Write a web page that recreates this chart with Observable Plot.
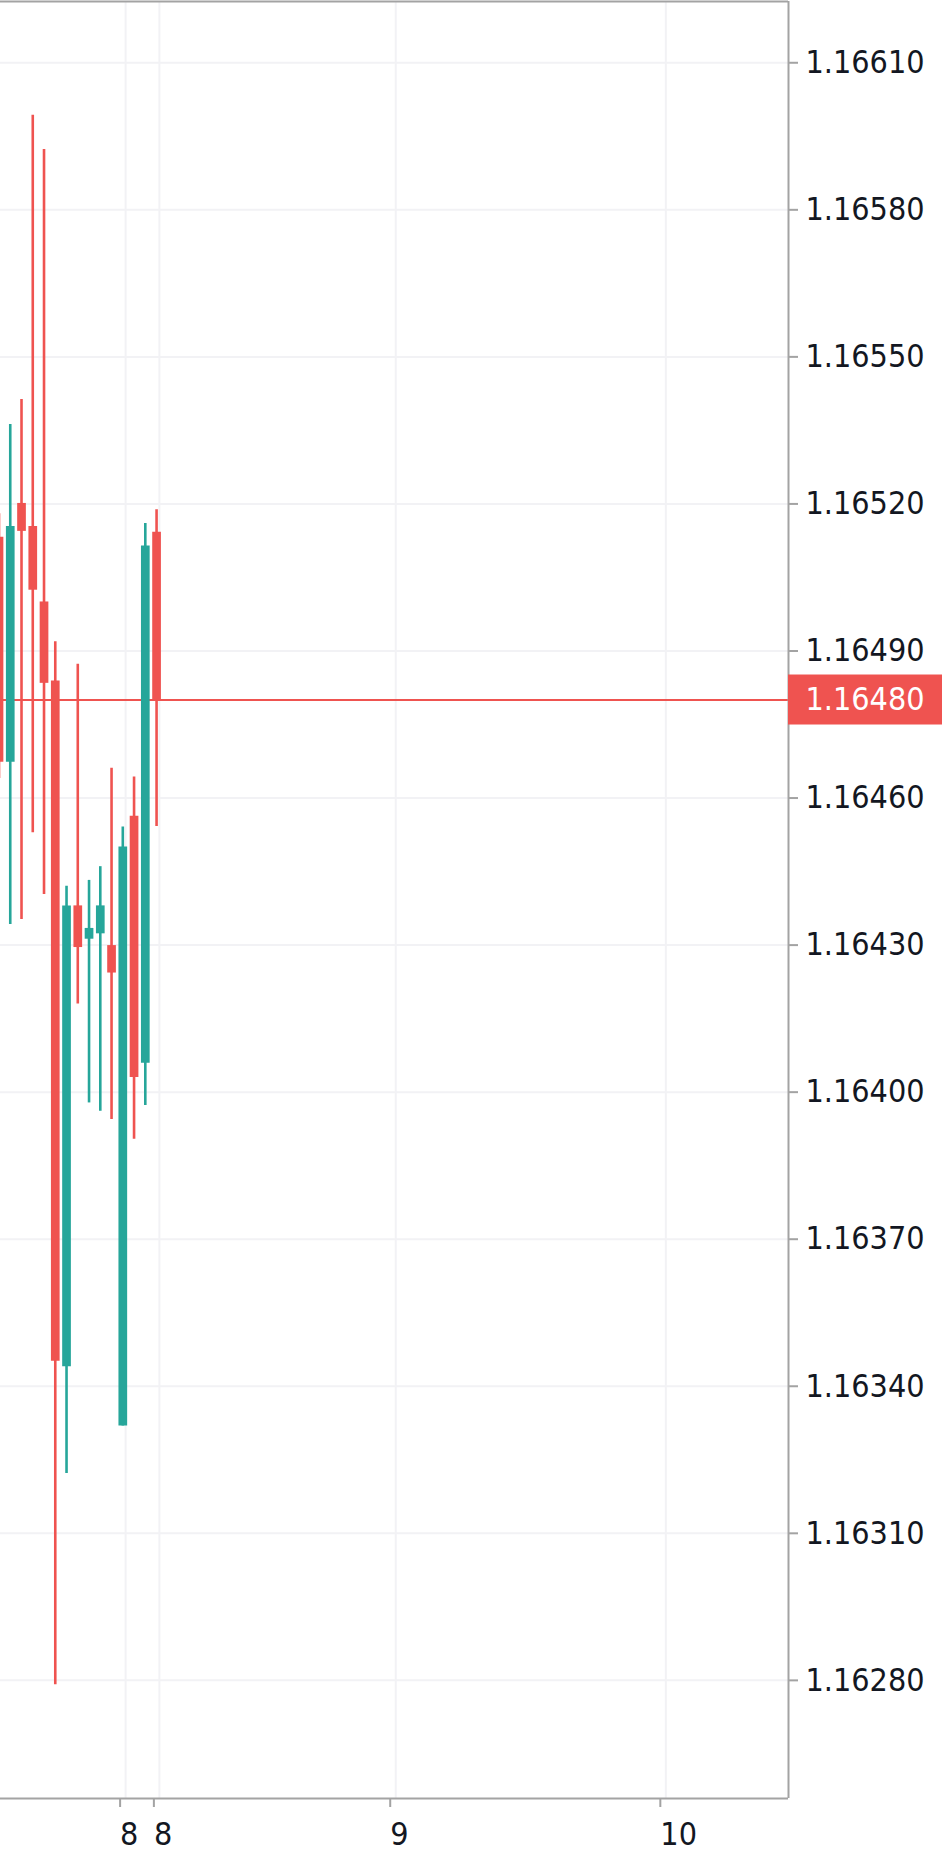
<!DOCTYPE html>
<html>
<head>
<meta charset="utf-8">
<script src="https://cdn.jsdelivr.net/npm/d3@7"></script>
<script src="https://cdn.jsdelivr.net/npm/@observablehq/plot@0.6"></script>
<style>
  html, body { margin: 0; padding: 0; background: #ffffff; }
  #chart svg { display: block; }
  #chart text { font-family: "DejaVu Sans Condensed", "DejaVu Sans", sans-serif; font-stretch: condensed; }
</style>
</head>
<body>
<div id="chart"></div>
<script>
// Candle data (hourly bars, index 0..14)
const barIndex = [0, 1, 2, 3, 4, 5, 6, 7, 8, 9, 10, 11, 12, 13, 14];
const opens  = [1.165132, 1.164673, 1.165201, 1.165154, 1.165000, 1.164839, 1.163440, 1.164380, 1.164312, 1.164323, 1.164299, 1.163319, 1.164563, 1.164059, 1.165142];
const highs  = [1.165180, 1.165362, 1.165413, 1.165993, 1.165923, 1.164919, 1.164420, 1.164873, 1.164432, 1.164460, 1.164661, 1.164541, 1.164643, 1.165160, 1.165188];
const lows   = [1.164640, 1.164342, 1.164352, 1.164529, 1.164403, 1.162791, 1.163222, 1.164180, 1.163978, 1.163961, 1.163944, 1.163319, 1.163904, 1.163973, 1.164542];
const closes = [1.164673, 1.165154, 1.165144, 1.165024, 1.164834, 1.163451, 1.164380, 1.164295, 1.164334, 1.164380, 1.164243, 1.164500, 1.164030, 1.165114, 1.164800];

// Axis ticks
const xTickPos = [11.25, 14.25, 35.25, 59.25];
const xTickLabels = ["8", "8", "9", "10"];
const yTicks = [1.16280, 1.16310, 1.16340, 1.16370, 1.16400, 1.16430, 1.16460, 1.16490, 1.16520, 1.16550, 1.16580, 1.16610];
const lastPrice = 1.16480;

// Visible ranges
const xDomain = [0.133, 70.15];
const yDomain = [1.162559, 1.166225];

const UP = "#26a69a", DOWN = "#ef5350", GRID = "#f2f2f5", BORDER = "#a3a3a3", TEXT = "#131722";

const candles = barIndex.map((i, k) => ({
  i, open: opens[k], high: highs[k], low: lows[k], close: closes[k],
  color: closes[k] >= opens[k] ? UP : DOWN
}));
const labelMap = new Map(xTickPos.map((p, k) => [p, xTickLabels[k]]));

const chart = Plot.plot({
  width: 945,
  height: 1865,
  marginTop: 1,
  marginBottom: 67,
  marginLeft: 0,
  marginRight: 157,
  style: { background: "#ffffff", fontSize: "32px", color: TEXT },
  x: { type: "linear", domain: xDomain, axis: null, label: null },
  y: { type: "linear", domain: yDomain, axis: null, label: null },
  marks: [
    // grid
    Plot.ruleY(yTicks, { stroke: GRID, strokeWidth: 2 }),
    Plot.ruleX(xTickPos, { stroke: GRID, strokeWidth: 2 }),
    // last price line
    Plot.ruleY([lastPrice], { stroke: DOWN, strokeWidth: 2 }),
    // wicks
    Plot.ruleX(candles, { x: "i", y1: "low", y2: "high", stroke: "color", strokeWidth: 2.6, clip: true }),
    // bodies
    Plot.ruleX(candles, { x: "i", y1: "open", y2: "close", stroke: "color", strokeWidth: 8.7, clip: true }),
    // pane borders
    Plot.ruleY([yDomain[1]], { stroke: BORDER, strokeWidth: 2 }),
    Plot.ruleY([yDomain[0]], { stroke: BORDER, strokeWidth: 2 }),
    Plot.ruleX([xDomain[1]], { stroke: BORDER, strokeWidth: 2 }),
    // axes
    Plot.axisY(yTicks, {
      anchor: "right", label: null, tickSize: 9, tickPadding: 8, strokeWidth: 2, stroke: BORDER,
      fill: TEXT, fontSize: 32, tickFormat: d3.format(".5f")
    }),
    Plot.axisX(xTickPos, {
      anchor: "bottom", label: null, tickSize: 9, tickPadding: 15, strokeWidth: 2, stroke: BORDER,
      fill: TEXT, fontSize: 32, textAnchor: "start", dx: -5.5, tickFormat: d => labelMap.get(d)
    }),
    // last price label
    Plot.rect([lastPrice], {
      x1: xDomain[1], x2: xDomain[1], y1: d => d, y2: d => d,
      insetRight: -154, insetTop: -25, insetBottom: -25, fill: DOWN
    }),
    Plot.text([lastPrice], {
      x: xDomain[1], y: d => d, text: d => d3.format(".5f")(d),
      textAnchor: "start", dx: 17, fill: "#ffffff", fontSize: 32
    })
  ]
});
document.getElementById("chart").appendChild(chart);
</script>
</body>
</html>
